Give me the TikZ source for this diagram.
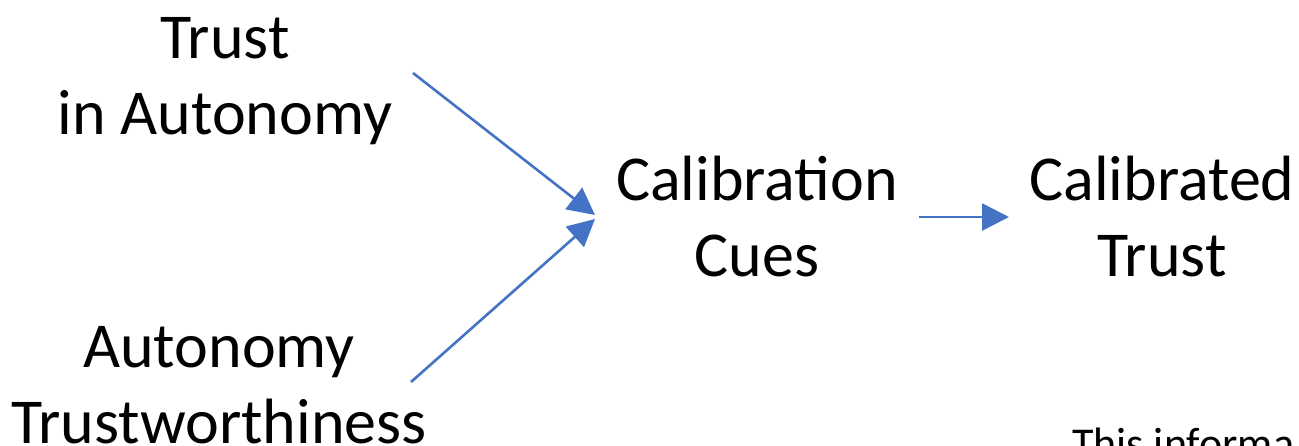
\documentclass[tikz,border=0pt]{standalone}
\usepackage{fontspec}
\setmainfont{Carlito}
\usetikzlibrary{arrows.meta}
\definecolor{linkblue}{HTML}{4472C4}
\begin{document}
\begin{tikzpicture}[x=1pt,y=-1pt,
  lbl/.style={font=\fontsize{64}{76}\selectfont, align=center, inner sep=0pt, text=black},
  note/.style={font=\fontsize{44}{52}\selectfont, inner sep=0pt, anchor=base west},
  flow/.style={draw=linkblue, line width=2.6pt, -{Triangle[length=27pt,width=27pt]}}]
  \useasboundingbox (0,0) rectangle (1299,445);

  % concept labels
  \node[lbl] (tia) at (225,81) {Trust\\in Autonomy};
  \node[lbl] (atw) at (219,385) {Autonomy\\Trustworthiness};
  \node[lbl] (cue) at (757,217) {Calibration\\Cues};
  \node[lbl] (ctr) at (1162,217) {Calibrated\\Trust};
  \node[note] (info) at (1072,458) {This informa};

  % connector end points
  \coordinate (tiaOut) at (413,73);
  \coordinate (atwOut) at (411,382);
  \coordinate (cueInA) at (595,215);
  \coordinate (cueInB) at (595,219);
  \coordinate (cueOut) at (919,217);
  \coordinate (ctrIn) at (1009,217);

  \draw[flow] (tiaOut) -- (cueInA);
  \draw[flow] (atwOut) -- (cueInB);
  \draw[flow] (cueOut) -- (ctrIn);
\end{tikzpicture}
\end{document}
